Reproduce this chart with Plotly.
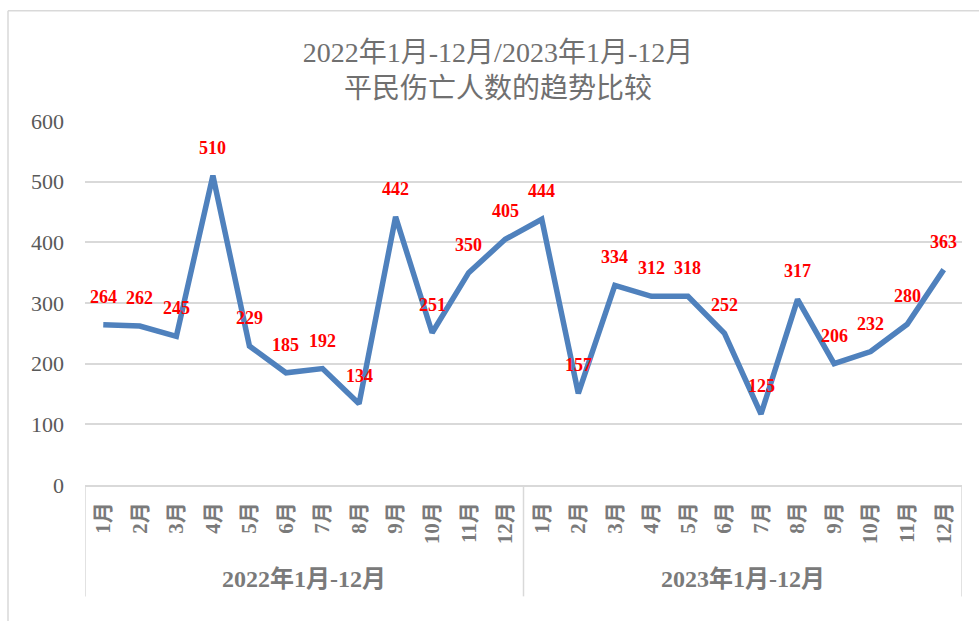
import plotly.graph_objects as go

# ---- data ----
groups = ["2022年1月-12月", "2023年1月-12月"]
months = ["1月", "2月", "3月", "4月", "5月", "6月", "7月", "8月", "9月", "10月", "11月", "12月"]
# plotted line values (as drawn)
line_2022 = [264, 262, 245, 510, 229, 185, 192, 134, 442, 251, 350, 405]
line_2023 = [438, 151, 329, 311, 311, 250, 117, 306, 200, 220, 265, 355]
# data-label texts
label_2022 = [264, 262, 245, 510, 229, 185, 192, 134, 442, 251, 350, 405]
label_2023 = [444, 157, 334, 312, 318, 252, 125, 317, 206, 232, 280, 363]
y_ticks = [0, 100, 200, 300, 400, 500, 600]

title_lines = ["2022年1月-12月/2023年1月-12月", "平民伤亡人数的趋势比较"]

# ---- derived ----
values = line_2022 + line_2023
labels = label_2022 + label_2023
n = len(values)
xs = list(range(n))
tick_text = months + months

GRAY = "#595959"
LGRAY = "#7a7a7a"
GRID = "#d9d9d9"
SERIF = "Liberation Serif, 'Times New Roman', 'Noto Sans CJK SC', serif"
TITLE_FONT = "Liberation Serif, 'Noto Sans CJK SC', sans-serif"

fig = go.Figure()
fig.add_trace(go.Scatter(
    x=xs, y=values, mode="lines",
    line=dict(color="#4f81bd", width=5.5),
    hoverinfo="skip", showlegend=False,
))

annotations = []
for x, v, t in zip(xs, values, labels):
    annotations.append(dict(
        x=x, y=v, xref="x", yref="y", text=str(t), showarrow=False,
        yshift=28, font=dict(family=SERIF, size=18, color="#ff0000", weight="bold"),
    ))

# group labels
for gi, g in enumerate(groups):
    annotations.append(dict(
        x=gi * 12 + 5.5, y=-0.258, xref="x", yref="paper", text=g, showarrow=False,
        font=dict(family=SERIF, size=24, color=LGRAY, weight="bold"),
        xanchor="center", yanchor="middle",
    ))

shapes = []
# group dividers
for b in [-0.5, 11.5, 23.5]:
    shapes.append(dict(type="line", xref="x", yref="paper", x0=b, x1=b, y0=0, y1=-0.306,
                       line=dict(color=GRID, width=1.5)))
# outer chart border (top & left visible)
shapes.append(dict(type="line", xref="paper", yref="paper", x0=-0.0878, x1=1.2, y0=1.303, y1=1.303,
                   line=dict(color=GRID, width=1.5)))
shapes.append(dict(type="line", xref="paper", yref="paper", x0=-0.0878, x1=-0.0878, y0=1.303, y1=-0.5,
                   line=dict(color=GRID, width=1.5)))

fig.update_layout(
    width=979, height=621,
    margin=dict(l=85, r=17, t=121, b=135.5, pad=0),
    plot_bgcolor="white", paper_bgcolor="white",
    title=dict(
        text="<br>".join(title_lines),
        x=498 / 979, xanchor="center", y=1 - 62 / 621, yanchor="top",
        font=dict(family=TITLE_FONT, size=28, color="#707070"),
    ),
    xaxis=dict(
        range=[-0.5, n - 0.5], tickmode="array", tickvals=xs, ticktext=tick_text,
        tickangle=-90, showgrid=False, zeroline=False,
        showline=True, linecolor=GRID, linewidth=1.5,
        tickfont=dict(family=SERIF, size=21, color=LGRAY, weight="bold"),
        ticks="", ticklabelstandoff=7, fixedrange=True,
    ),
    yaxis=dict(
        range=[0, 600], tickmode="array", tickvals=y_ticks,
        showgrid=True, gridcolor=GRID, gridwidth=1.5, zeroline=False,
        showline=False, ticks="", ticklabelstandoff=20,
        tickfont=dict(family=SERIF, size=22, color=GRAY), fixedrange=True,
    ),
    annotations=annotations,
    shapes=shapes,
)

fig.write_html("out.html", include_plotlyjs=True,
               config={"displayModeBar": False},
               post_script="document.body.style.margin='0px';")
